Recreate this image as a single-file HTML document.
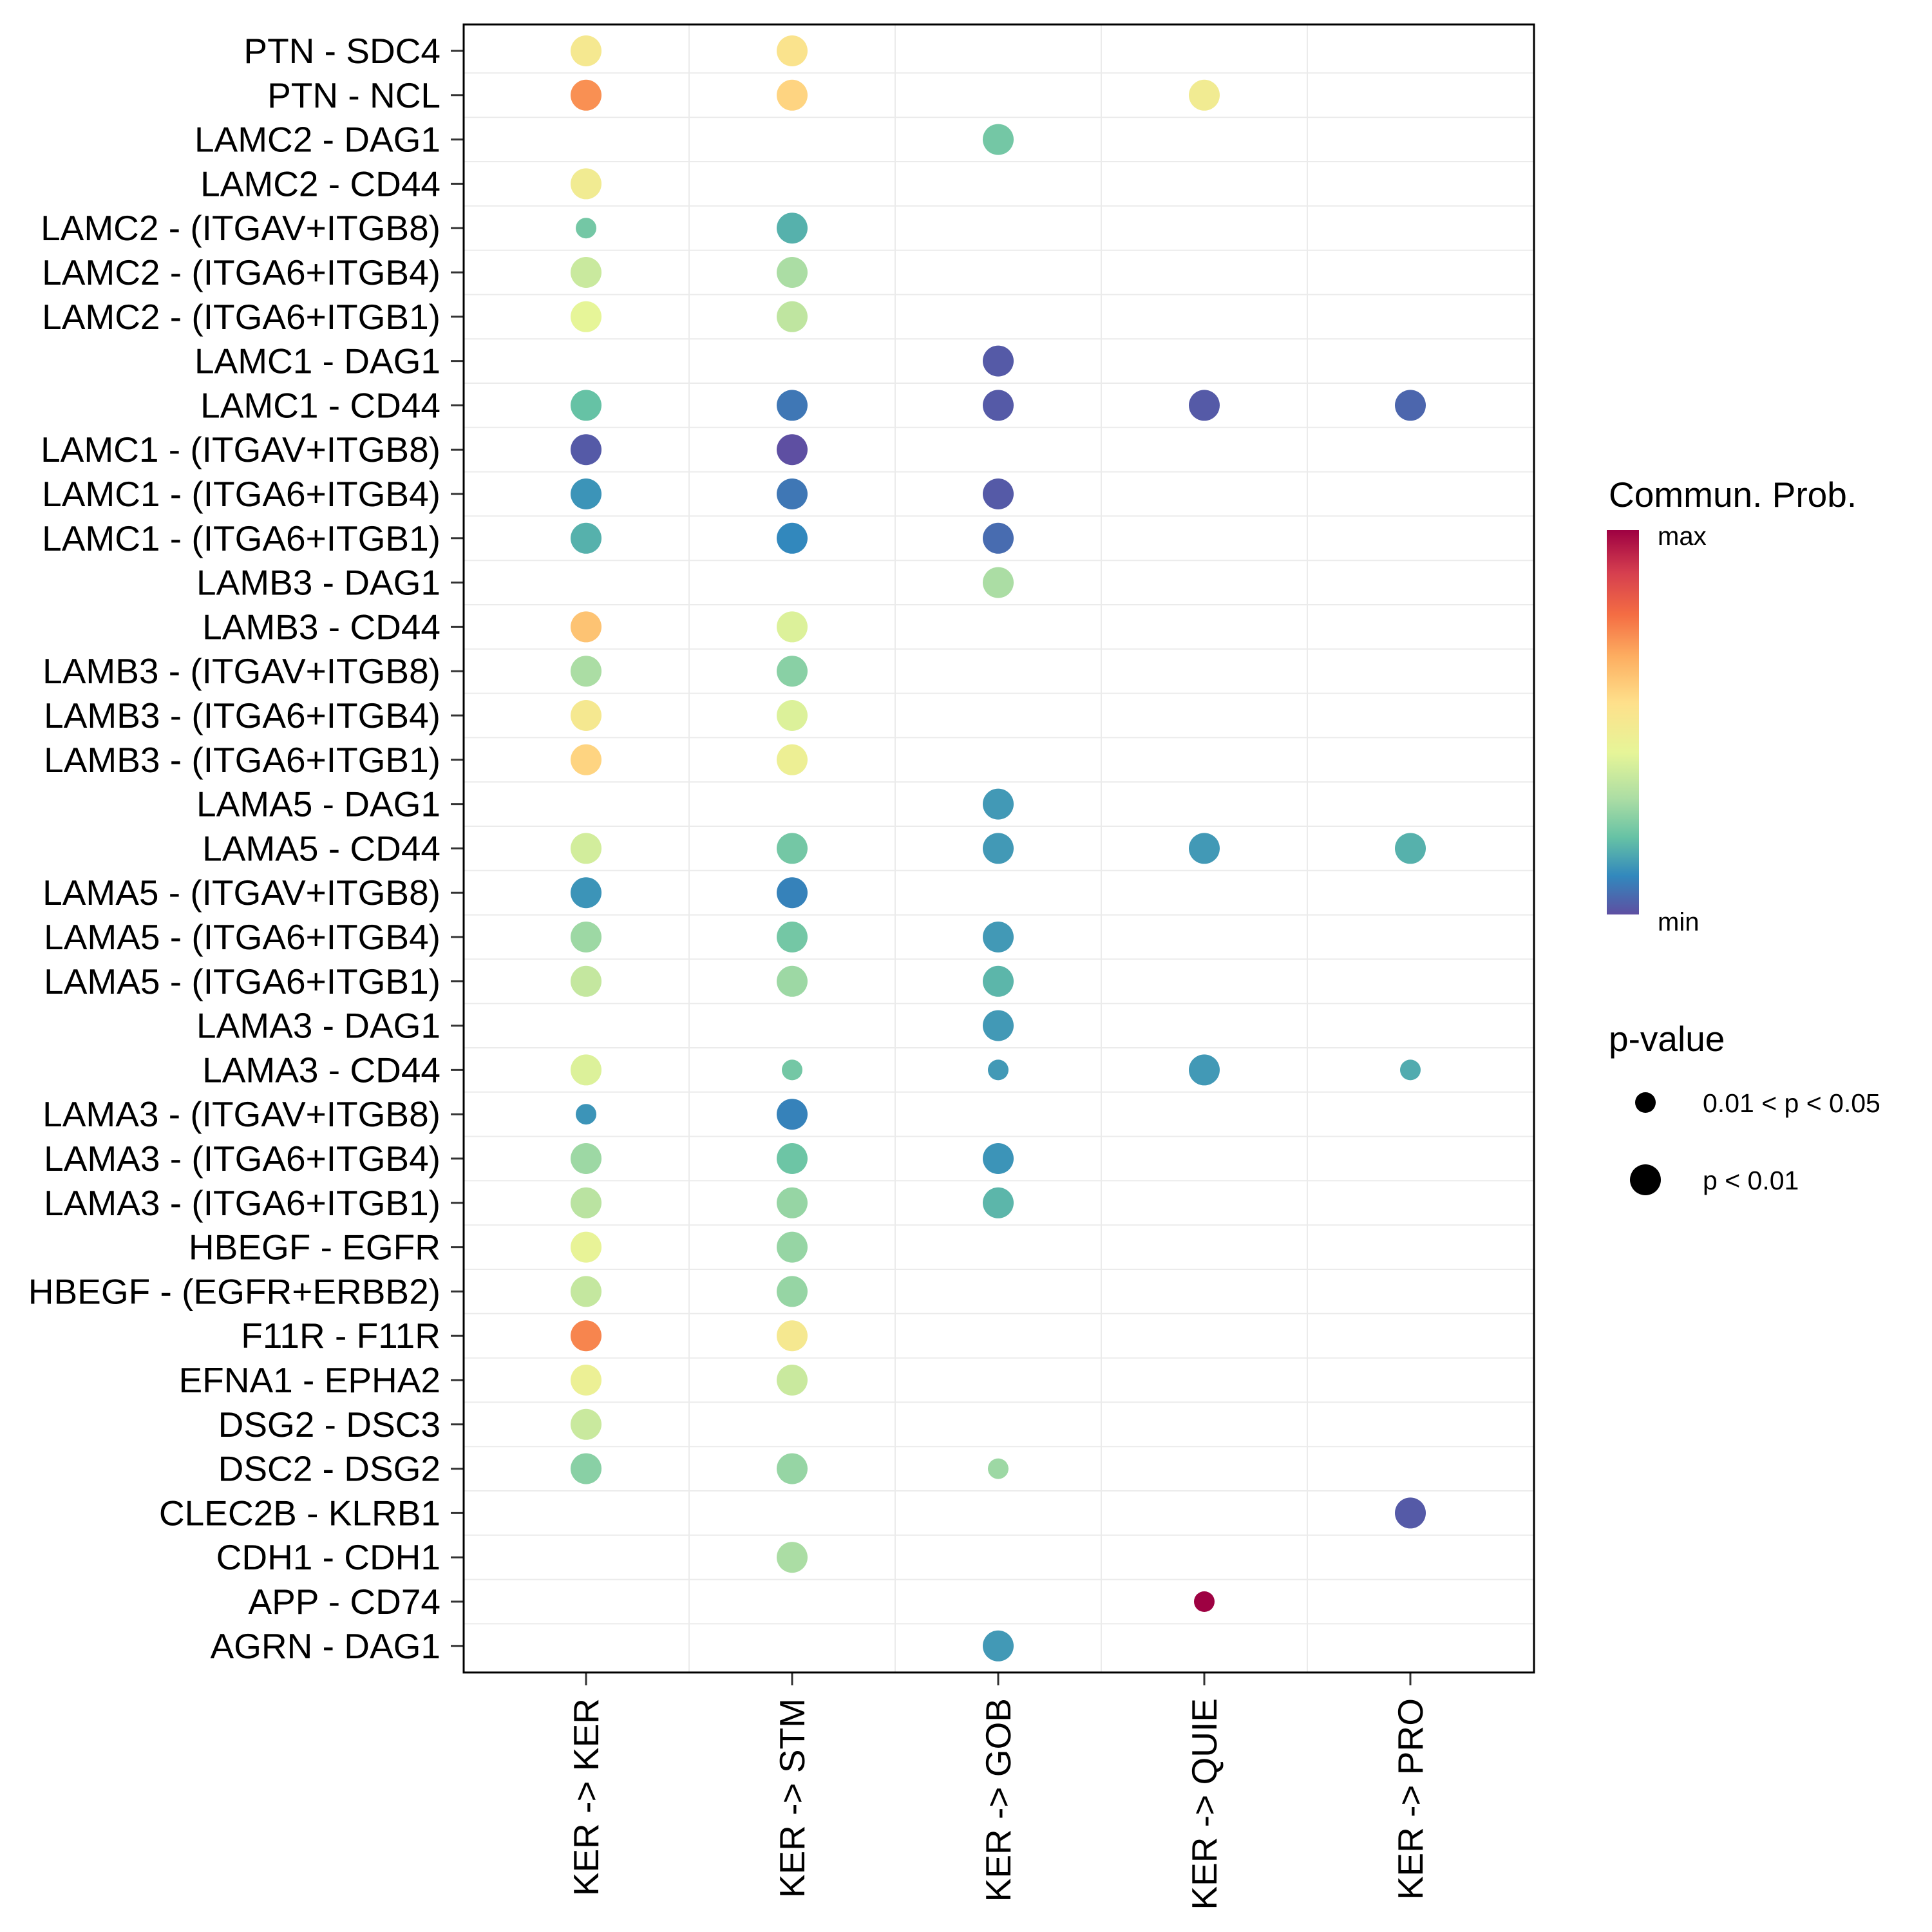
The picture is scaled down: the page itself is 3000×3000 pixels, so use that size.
<!DOCTYPE html>
<html><head><meta charset="utf-8"><style>
html,body{margin:0;padding:0;background:#fff;}
svg{display:block;font-family:"Liberation Sans",sans-serif;}
</style></head><body>
<svg id="chart" width="3000" height="3000" viewBox="0 0 3000 3000" xmlns="http://www.w3.org/2000/svg">
<defs>
<linearGradient id="spec" x1="0" y1="1" x2="0" y2="0">
<stop offset="0" stop-color="#5E4FA2"/><stop offset="0.1" stop-color="#3288BD"/><stop offset="0.2" stop-color="#66C2A5"/><stop offset="0.3" stop-color="#ABDDA4"/><stop offset="0.42" stop-color="#E6F598"/><stop offset="0.55" stop-color="#FEE08B"/><stop offset="0.67" stop-color="#FDAE61"/><stop offset="0.78" stop-color="#F46D43"/><stop offset="0.89" stop-color="#D53E4F"/><stop offset="1" stop-color="#9E0142"/>
</linearGradient>
</defs>
<rect x="0" y="0" width="3000" height="3000" fill="#fff"/>
<g id="grid"></g>
<g id="dots"></g>
<g id="yaxis"></g>
<g id="xaxis"></g>
<rect x="720" y="38" width="1662" height="2559" fill="none" stroke="#000" stroke-width="3"/>
<g>
<text x="2498" y="787" font-size="55">Commun. Prob.</text>
<rect x="2495" y="823" width="50" height="597" fill="url(#spec)"/>
<text x="2574" y="846" font-size="40">max</text>
<text x="2574" y="1445" font-size="40">min</text>
</g>
<g>
<text x="2498" y="1632" font-size="55">p-value</text>
<circle cx="2555" cy="1712" r="16" fill="#000"/>
<text x="2644" y="1727" font-size="41">0.01 &lt; p &lt; 0.05</text>
<circle cx="2555" cy="1832" r="24" fill="#000"/>
<text x="2644" y="1847" font-size="41">p &lt; 0.01</text>
</g>
</svg>
<script>
const rows = ["PTN - SDC4","PTN - NCL","LAMC2 - DAG1","LAMC2 - CD44","LAMC2 - (ITGAV+ITGB8)","LAMC2 - (ITGA6+ITGB4)","LAMC2 - (ITGA6+ITGB1)","LAMC1 - DAG1","LAMC1 - CD44","LAMC1 - (ITGAV+ITGB8)","LAMC1 - (ITGA6+ITGB4)","LAMC1 - (ITGA6+ITGB1)","LAMB3 - DAG1","LAMB3 - CD44","LAMB3 - (ITGAV+ITGB8)","LAMB3 - (ITGA6+ITGB4)","LAMB3 - (ITGA6+ITGB1)","LAMA5 - DAG1","LAMA5 - CD44","LAMA5 - (ITGAV+ITGB8)","LAMA5 - (ITGA6+ITGB4)","LAMA5 - (ITGA6+ITGB1)","LAMA3 - DAG1","LAMA3 - CD44","LAMA3 - (ITGAV+ITGB8)","LAMA3 - (ITGA6+ITGB4)","LAMA3 - (ITGA6+ITGB1)","HBEGF - EGFR","HBEGF - (EGFR+ERBB2)","F11R - F11R","EFNA1 - EPHA2","DSG2 - DSC3","DSC2 - DSG2","CLEC2B - KLRB1","CDH1 - CDH1","APP - CD74","AGRN - DAG1"];
const cols = ["KER -> KER","KER -> STM","KER -> GOB","KER -> QUIE","KER -> PRO"];
// communication probability (0=min,1=max), null = absent
const probKER  = [.5,.72,null,.48,.22,.36,.42,null,.2,.02,.12,.17,null,.62,.3,.5,.58,null,.38,.12,.28,.35,null,.4,.12,.28,.33,.43,.35,.74,.45,.36,.25,null,null,null,null];
const probSTM  = [.53,.58,null,null,.17,.3,.34,null,.07,0,.07,.1,null,.4,.25,.4,.46,null,.22,.09,.22,.28,null,.22,.09,.21,.27,.27,.27,.5,.36,null,.27,null,.3,null,null];
const probGOB  = [null,null,.22,null,null,null,null,.02,.02,null,.02,.05,.3,null,null,null,null,.13,.13,null,.13,.18,.13,.13,null,.12,.18,null,null,null,null,null,.28,null,null,null,.13];
const probQUIE = [null,.48,null,null,null,null,null,null,.02,null,null,null,null,null,null,null,null,null,.13,null,null,null,null,.13,null,null,null,null,null,null,null,null,null,null,null,1,null];
const probPRO  = [null,null,null,null,null,null,null,null,.04,null,null,null,null,null,null,null,null,null,.17,null,null,null,null,.16,null,null,null,null,null,null,null,null,null,.02,null,null,null];
// p-value class: 1 = p<0.01 (large), 0 = 0.01<p<0.05 (small)
const sigKER  = [1,1,1,1,0,1,1,1,1,1,1,1,1,1,1,1,1,1,1,1,1,1,1,1,0,1,1,1,1,1,1,1,1,1,1,1,1];
const sigSTM  = [1,1,1,1,1,1,1,1,1,1,1,1,1,1,1,1,1,1,1,1,1,1,1,0,1,1,1,1,1,1,1,1,1,1,1,1,1];
const sigGOB  = [1,1,1,1,1,1,1,1,1,1,1,1,1,1,1,1,1,1,1,1,1,1,1,0,1,1,1,1,1,1,1,1,0,1,1,1,1];
const sigQUIE = [1,1,1,1,1,1,1,1,1,1,1,1,1,1,1,1,1,1,1,1,1,1,1,1,1,1,1,1,1,1,1,1,1,1,1,0,1];
const sigPRO  = [1,1,1,1,1,1,1,1,1,1,1,1,1,1,1,1,1,1,1,1,1,1,1,0,1,1,1,1,1,1,1,1,1,1,1,1,1];

const NS="http://www.w3.org/2000/svg";
const x0=910, dx=320, y0=79, dy=68.8;
function xScale(i){return x0+i*dx;}
function yScale(j){return y0+j*dy;}
const stops=[[0,[94,79,162]],[.1,[50,136,189]],[.2,[102,194,165]],[.3,[171,221,164]],[.42,[230,245,152]],[.55,[254,224,139]],[.67,[253,174,97]],[.78,[244,109,67]],[.89,[213,62,79]],[1,[158,1,66]]];
function color(t){for(let k=1;k<stops.length;k++){if(t<=stops[k][0]){const a=stops[k-1],b=stops[k],f=(t-a[0])/(b[0]-a[0]);return "rgb("+a[1].map((v,i)=>Math.round(v+(b[1][i]-v)*f)).join(",")+")";}}return "rgb(158,1,66)";}
function mk(tag,attrs,parent){const e=document.createElementNS(NS,tag);for(const k in attrs)e.setAttribute(k,attrs[k]);parent.appendChild(e);return e;}
const grid=document.getElementById('grid'),dots=document.getElementById('dots'),ya=document.getElementById('yaxis'),xa=document.getElementById('xaxis');
for(let j=0;j<rows.length-1;j++){const l=mk('line',{x1:720,x2:2382,y1:yScale(j+.5),y2:yScale(j+.5),stroke:'#ebebeb','stroke-width':2},grid);

}
for(let i=0;i<cols.length-1;i++){const l=mk('line',{x1:xScale(i+.5),x2:xScale(i+.5),y1:38,y2:2597,stroke:'#ebebeb','stroke-width':2},grid);

}
const probs=[probKER,probSTM,probGOB,probQUIE,probPRO], sigs=[sigKER,sigSTM,sigGOB,sigQUIE,sigPRO];
for(let i=0;i<cols.length;i++){for(let j=0;j<rows.length;j++){const v=probs[i][j];if(v===null||v===undefined)continue;
const c=mk('circle',{cx:xScale(i),cy:yScale(j),r:sigs[i][j]?24:16,fill:color(v)},dots);

}}
rows.forEach((r,j)=>{const t=mk('text',{x:684,y:yScale(j)+19,'font-size':55,'text-anchor':'end'},ya);t.textContent=r;


const tk=mk('line',{x1:700,x2:720,y1:yScale(j),y2:yScale(j),stroke:'#333','stroke-width':3},ya);

});
cols.forEach((c,i)=>{const x=xScale(i);const tk=mk('line',{x1:x,x2:x,y1:2597,y2:2617,stroke:'#333','stroke-width':3},xa);


const t=mk('text',{x:0,y:0,'font-size':55,'text-anchor':'end',transform:'translate('+(x+19)+',2637) rotate(-90)'},xa);t.textContent=c;

});
</script>
</body></html>
